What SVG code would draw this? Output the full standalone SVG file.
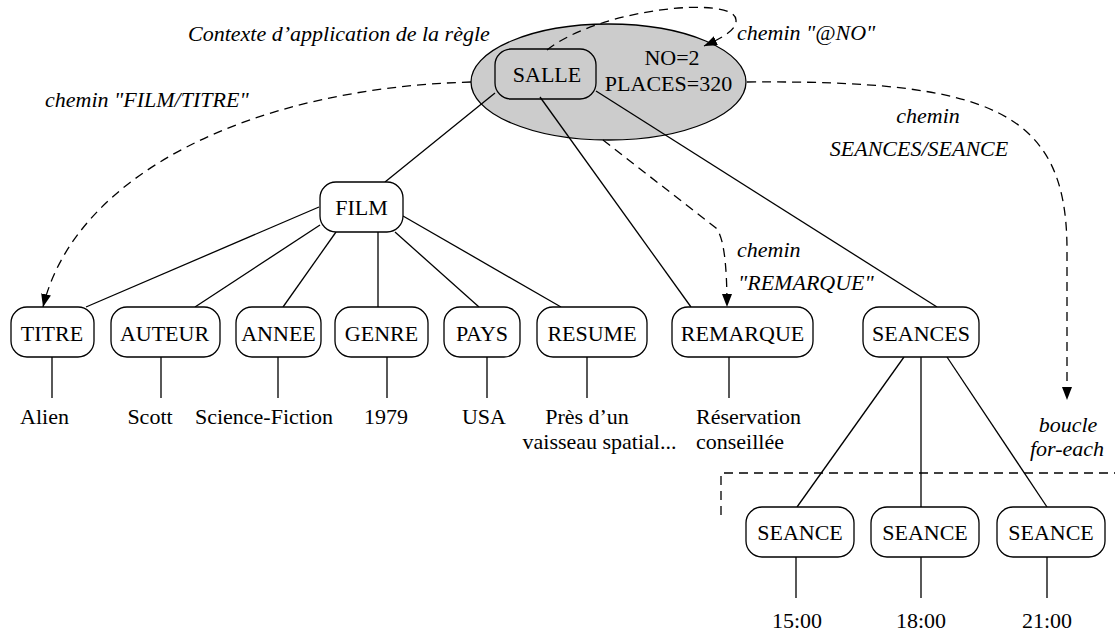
<svg xmlns="http://www.w3.org/2000/svg" width="1115" height="635" viewBox="0 0 1115 635">
<style>
text{font-family:"Liberation Serif","Times New Roman",serif;font-size:22px;fill:#000}
.c{text-anchor:middle}
.i{font-style:italic}
.box{fill:#fff;stroke:#000;stroke-width:1.3}
.line{fill:none;stroke:#000;stroke-width:1.3}
.dash{fill:none;stroke:#000;stroke-width:1.3;stroke-dasharray:9 6}
</style>
<defs>
<marker id="arr" markerUnits="userSpaceOnUse" markerWidth="14" markerHeight="10" refX="13" refY="5" orient="auto">
<path d="M0,0 L13,5 L0,10 z" fill="#000"/>
</marker>
</defs>
<rect width="1115" height="635" fill="#fff"/>

<g id="context">
<ellipse cx="608.5" cy="82" rx="137.5" ry="58" fill="#cccccc" stroke="#000" stroke-width="1.3"/>
</g>

<g id="connectors">
<path class="line" d="M495 93 L385 182"/>
<path class="line" d="M540 97 L691 307"/>
<path class="line" d="M596 91 L937 307"/>
<path class="line" d="M319 207 L86 307"/>
<path class="line" d="M320 225 L195 307"/>
<path class="line" d="M336 232 L283 307"/>
<path class="line" d="M378 232 L378 307"/>
<path class="line" d="M395 232 L479 307"/>
<path class="line" d="M403 216 L561 307"/>
<path class="line" d="M904 357 L797 507"/>
<path class="line" d="M921 357 L921 514"/>
<path class="line" d="M947 357 L1047 507"/>
<path class="line" d="M52 357 V398 M161 357 V398 M278 357 V398 M387 357 V398 M487 357 V398 M587 357 V398 M729 357 V398"/>
<path class="line" d="M796 557 V598 M921 557 V598 M1047 557 V598"/>
<path class="dash" d="M471 82 C250 88 75 175 43 307" marker-end="url(#arr)"/>
<path class="dash" d="M547 50 C600 8 735 -5 736 20 C737 30 722 38 704 46" marker-end="url(#arr)"/>
<path class="dash" d="M603 140 L716 228 Q727 240 727 307" marker-end="url(#arr)"/>
<path class="dash" d="M747 82 C990 80 1067 110 1067 250 L1067 400" marker-end="url(#arr)"/>
<path class="dash" d="M721 515 L721 473 L1115 473"/>
</g>

<g id="SALLE">
<rect x="495" y="49" width="101" height="50" rx="16" fill="none" stroke="#000" stroke-width="1.3"/>
<text class="c" x="547" y="82">SALLE</text>
<text class="c" x="672" y="65">NO=2</text>
<text class="c" x="668.5" y="91">PLACES=320</text>
</g>
<g id="FILM"><rect class="box" x="320" y="182" width="83" height="50" rx="16"/><text class="c" x="361.5" y="215">FILM</text></g>
<g id="TITRE"><rect class="box" x="11" y="307" width="83" height="50" rx="16"/><text class="c" x="52" y="341">TITRE</text></g>
<g id="AUTEUR"><rect class="box" x="111" y="307" width="109" height="50" rx="16"/><text class="c" x="164.5" y="341">AUTEUR</text></g>
<g id="ANNEE"><rect class="box" x="236" y="307" width="85" height="50" rx="16"/><text class="c" x="278.5" y="341">ANNEE</text></g>
<g id="GENRE"><rect class="box" x="335" y="307" width="93" height="50" rx="16"/><text class="c" x="381.5" y="341">GENRE</text></g>
<g id="PAYS"><rect class="box" x="444" y="307" width="76" height="50" rx="16"/><text class="c" x="482" y="341">PAYS</text></g>
<g id="RESUME"><rect class="box" x="537" y="307" width="110" height="50" rx="16"/><text class="c" x="592" y="341">RESUME</text></g>
<g id="REMARQUE"><rect class="box" x="672" y="307" width="141" height="50" rx="16"/><text class="c" x="742.5" y="341">REMARQUE</text></g>
<g id="SEANCES"><rect class="box" x="863" y="307" width="116" height="50" rx="16"/><text class="c" x="921" y="341">SEANCES</text></g>
<g id="SEANCE1"><rect class="box" x="746" y="507" width="108" height="50" rx="16"/><text class="c" x="800" y="540">SEANCE</text></g>
<g id="SEANCE2"><rect class="box" x="871" y="507" width="108" height="50" rx="16"/><text class="c" x="925" y="540">SEANCE</text></g>
<g id="SEANCE3"><rect class="box" x="997" y="507" width="108" height="50" rx="16"/><text class="c" x="1051" y="540">SEANCE</text></g>

<g id="values">
<text class="c" x="44.5" y="424">Alien</text>
<text class="c" x="150" y="424">Scott</text>
<text class="c" x="264" y="424">Science-Fiction</text>
<text class="c" x="386" y="424">1979</text>
<text class="c" x="484" y="424">USA</text>
<text class="c" x="587" y="424">Près d’un</text>
<text class="c" x="599.5" y="449">vaisseau spatial...</text>
<text x="696" y="424">Réservation</text>
<text x="696" y="449">conseillée</text>
<text class="c" x="797" y="628">15:00</text>
<text class="c" x="921" y="628">18:00</text>
<text class="c" x="1047" y="628">21:00</text>
</g>

<g id="labels">
<text class="i" x="188" y="41">Contexte d’application de la règle</text>
<text class="i" x="45" y="107">chemin "FILM/TITRE"</text>
<text class="i" x="737" y="40">chemin "@NO"</text>
<text class="i c" x="928" y="123">chemin</text>
<text class="i c" x="919" y="156">SEANCES/SEANCE</text>
<text class="i" x="737" y="257">chemin</text>
<text class="i" x="738" y="290">"REMARQUE"</text>
<text class="i c" x="1068" y="432">boucle</text>
<text class="i c" x="1067" y="456">for-each</text>
</g>
</svg>
